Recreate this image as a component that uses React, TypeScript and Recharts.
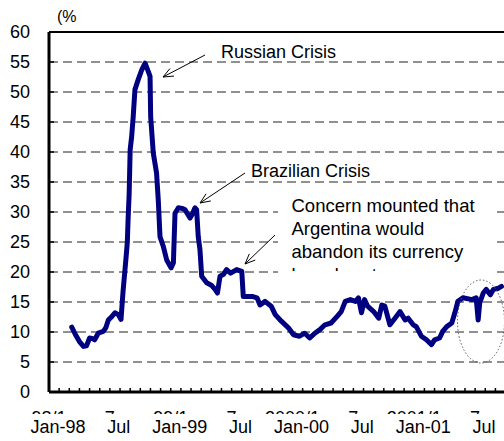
import React from "react";
import { CartesianGrid, Line, LineChart, ReferenceLine, XAxis, YAxis } from "recharts";

// months since Jan-98 (weekly-ish samples) and spread in %
const MONTHS = [
  2.24, 2.6, 3.0, 3.4, 3.7, 4.0, 4.3, 4.5, 4.85, 5.35, 5.6, 5.85, 6.2, 6.5, 6.83, 7.1, 7.2, 7.3, 7.49, 7.6,
  7.72, 7.8, 7.9, 8.0, 8.15, 8.3, 8.47, 8.8, 9.14, 9.47, 9.79, 9.96, 10.02, 10.28, 10.6, 10.77, 10.94, 11.26,
  11.6, 12.03, 12.26, 12.42, 12.75, 13.1, 13.4, 13.9, 14.1, 14.39, 14.55, 14.71, 14.88, 15.05, 15.54, 16.0,
  16.37, 16.6, 16.86, 17.2, 17.5, 17.9, 18.5, 19.0, 19.15, 19.6, 20.1, 20.5, 20.8, 21.3, 21.9, 22.3, 22.9,
  23.6, 24.1, 24.7, 25.2, 25.7, 26.2, 26.7, 27.2, 27.8, 28.4, 28.8, 29.2, 29.7, 30.2, 30.5, 30.8, 31.1, 31.4,
  32.0, 32.5, 32.8, 33.1, 33.6, 34.1, 34.6, 35.1, 35.4, 35.9, 36.2, 36.7, 37.2, 37.7, 38.0, 38.5, 38.8, 39.2,
  39.7, 40.0, 40.3, 40.8, 41.7, 42.1, 42.3, 42.45, 42.8, 43.1, 43.5, 43.8, 44.3, 44.6,
];
const SPREAD = [
  10.8, 9.6, 8.4, 7.6, 7.7, 9.0, 8.9, 8.7, 9.8, 10.1, 10.7, 12.0, 12.6, 13.2, 12.9, 12.1, 14.5, 16.8, 20.4, 22.5,
  25, 29, 33, 40.4, 42.6, 45.9, 50.4, 52.1, 53.7, 54.8, 53.4, 52.6, 45.9, 39.8, 36.5, 32, 25.9, 24.3,
  22, 20.7, 21.5, 29.8, 30.7, 30.6, 30.4, 29.0, 29.6, 30.7, 30.4, 25.9, 23.7, 19.3, 18.2, 17.8,
  17.1, 16.5, 19.3, 19.6, 20.4, 19.8, 20.4, 20.1, 15.9, 15.9, 15.9, 15.7, 14.5, 15.1, 14.3, 12.9, 11.8,
  10.7, 9.55, 9.3, 9.8, 9.0, 9.8, 10.4, 11.2, 11.5, 12.6, 13.4, 15.1, 15.4, 15.1, 15.7, 13.2, 15.4, 14.3,
  13.4, 12.3, 14.5, 14.3, 11.2, 12.3, 13.4, 12.0, 12.3, 11.2, 10.9, 9.3, 8.7, 7.9, 8.7, 9.0, 10.1, 10.9,
  11.5, 13.2, 15.1, 15.7, 15.4, 15.7, 12.0, 14.8, 16.5, 17.1, 16.2, 17.1, 17.3, 17.6,
];

const TOP_LABELS = ["98/1", "7", "99/1", "7", "2000/1", "7", "2001/1", "7", "2002/1"];
const BOTTOM_LABELS = ["Jan-98", "Jul", "Jan-99", "Jul", "Jan-00", "Jul", "Jan-01", "Jul", "Jan-02"];
const Y_TICKS = [0, 5, 10, 15, 20, 25, 30, 35, 40, 45, 50, 55, 60];
const MONTH_TICKS = Array.from({ length: 49 }, (_, i) => i);

const CONCERN_LINES = ["Concern mounted that", "Argentina would", "abandon its currency", "board system"];

const FONT = "'Liberation Sans', Arial, sans-serif";

const data = MONTHS.map((m, i) => ({ m, v: SPREAD[i] }));

const XTick = (props: any) => {
  const { x, y, payload } = props;
  const m = payload.value;
  const idx = m % 6 === 0 ? m / 6 : -1;
  const clipId = `xtop-${m}`;
  return (
    <g>
      <line x1={x} y1={y} x2={x} y2={y - 4} stroke="#000" strokeWidth={1.5} />
      {idx >= 0 && (
        <g fontFamily={FONT} fontSize={18} fill="#000">
          <clipPath id={clipId}>
            <rect x={x - 40} y={y + 19} width={80} height={3} />
          </clipPath>
          <text x={x} y={y + 32} textAnchor="middle" clipPath={`url(#${clipId})`}>
            {TOP_LABELS[idx]}
          </text>
          <text x={x + 9} y={y + 41} textAnchor="middle">
            {BOTTOM_LABELS[idx]}
          </text>
        </g>
      )}
    </g>
  );
};

const YTick = (props: any) => {
  const { x, y, payload } = props;
  const v = payload.value;
  return (
    <g>
      {v > 0 && v < 60 && <line x1={x} y1={y} x2={x + 5} y2={y} stroke="#000" strokeWidth={1.5} />}
      <text x={x - 19} y={y + 6} textAnchor="end" fontFamily={FONT} fontSize={18} fill="#000">
        {v}
      </text>
    </g>
  );
};

const Arrow = ({ x1, y1, x2, y2 }: { x1: number; y1: number; x2: number; y2: number }) => {
  const a = Math.atan2(y2 - y1, x2 - x1);
  const len = 11;
  const spread = 0.4;
  const p1 = `${x2 - len * Math.cos(a - spread)},${y2 - len * Math.sin(a - spread)}`;
  const p2 = `${x2 - len * Math.cos(a + spread)},${y2 - len * Math.sin(a + spread)}`;
  return (
    <g stroke="#000" strokeWidth={1} fill="none">
      <line x1={x1} y1={y1} x2={x2} y2={y2} />
      <polyline points={`${p1} ${x2},${y2} ${p2}`} />
    </g>
  );
};

export default function App() {
  return (
    <div style={{ position: "absolute", left: 0, top: 0, width: 504, height: 441, overflow: "hidden", background: "#fff" }}>
      <LineChart width={545} height={441} data={data} margin={{ top: 32, right: 9, bottom: 0, left: 0 }}>
        <CartesianGrid vertical={false} stroke="#222" strokeDasharray="9 5" />
        <XAxis
          dataKey="m"
          type="number"
          domain={[0, 48]}
          ticks={MONTH_TICKS}
          interval={0}
          height={49}
          tickSize={0}
          tickMargin={0}
          tickLine={false}
          axisLine={{ stroke: "#000", strokeWidth: 3 }}
          tick={<XTick />}
        />
        <YAxis
          domain={[0, 60]}
          ticks={Y_TICKS}
          interval={0}
          width={49}
          tickSize={0}
          tickMargin={0}
          tickLine={false}
          axisLine={{ stroke: "#000", strokeWidth: 3 }}
          tick={<YTick />}
        />
        <ReferenceLine y={60} stroke="#000" strokeWidth={2} />
        <Line
          type="linear"
          dataKey="v"
          stroke="#000080"
          strokeWidth={5}
          strokeLinejoin="round"
          strokeLinecap="round"
          dot={false}
          isAnimationActive={false}
        />
      </LineChart>
      <svg
        width={504}
        height={441}
        style={{ position: "absolute", left: 0, top: 0, pointerEvents: "none" }}
        fontFamily={FONT}
      >
        <text x={57} y={22} fontSize={16} fill="#000">(%</text>

        <text x={221} y={58} fontSize={18} fill="#000">Russian Crisis</text>
        <Arrow x1={205} y1={55} x2={163} y2={77} />

        <text x={251} y={177} fontSize={18} fill="#000">Brazilian Crisis</text>
        <Arrow x1={245} y1={173} x2={200} y2={203} />

        <rect x={278} y={190} width={214} height={83.5} fill="#fff" />
        <clipPath id="concern-text">
          <rect x={278} y={190} width={214} height={81} />
        </clipPath>
        <g clipPath="url(#concern-text)">
          {CONCERN_LINES.map((line, i) => (
            <text key={line} x={291.5} y={211.5 + i * 23.3} fontSize={18.5} fill="#000">
              {line}
            </text>
          ))}
        </g>
        <Arrow x1={275} y1={235} x2={245} y2={264} />

        <ellipse cx={481} cy={321.5} rx={23.5} ry={41.5} fill="none" stroke="#555" strokeWidth={1} strokeDasharray="1.5 2" />
      </svg>
    </div>
  );
}
